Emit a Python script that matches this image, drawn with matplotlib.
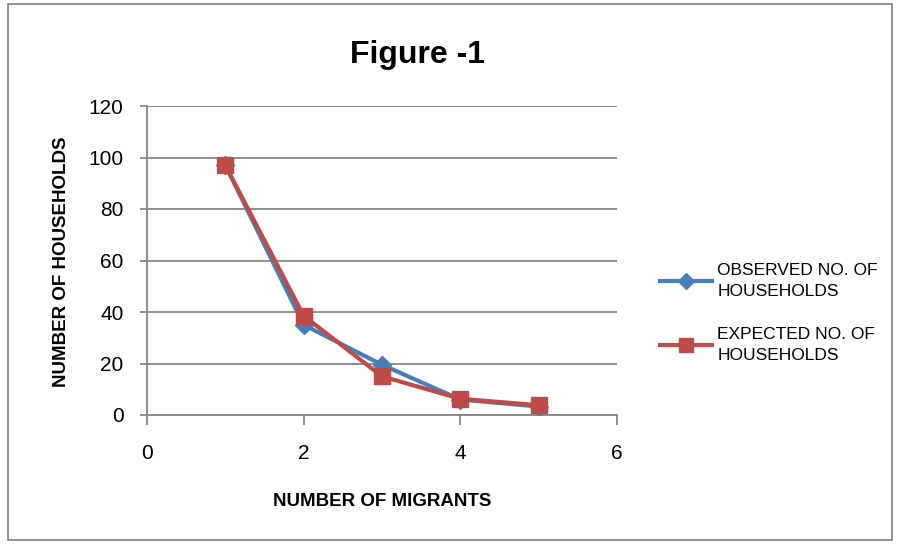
import matplotlib.pyplot as plt
from matplotlib.patches import Rectangle

plt.rcParams['font.family'] = ['Liberation Sans', 'DejaVu Sans']

# data
migrants = [1, 2, 3, 4, 5]
observed = [97, 35, 19.5, 6, 3.3]
expected = [97, 38.5, 15, 6.3, 3.8]

fig = plt.figure(figsize=(8.99, 5.44), dpi=100)
ax = fig.add_axes([147 / 899, 1 - 415 / 544, (617 - 147) / 899, (415 - 106) / 544])

ax.plot(migrants, observed, color="#4A7EBB", lw=3, marker="D", ms=9,
        label="OBSERVED NO. OF\nHOUSEHOLDS", zorder=3)
ax.plot(migrants, expected, color="#BE4B48", lw=3, marker="s", ms=12,
        label="EXPECTED NO. OF\nHOUSEHOLDS", zorder=4)

ax.set_xlim(0, 6)
ax.set_ylim(0, 120)
ax.set_xticks([0, 2, 4, 6])
ax.set_yticks(range(0, 121, 20))
ax.grid(axis="y", color="#868686", lw=1.3)
ax.set_axisbelow(True)
for s in ["top", "right"]:
    ax.spines[s].set_visible(False)
for s in ["left", "bottom"]:
    ax.spines[s].set_color("#868686")
    ax.spines[s].set_linewidth(1.3)
ax.tick_params(axis="both", colors="#868686", labelcolor="black", labelsize=15,
               length=5, width=1.3)
ax.tick_params(axis="x", pad=14, length=7)
ax.tick_params(axis="y", pad=12)

fig.text(418 / 899, 1 - 55 / 544, "Figure -1", ha="center", va="center",
         fontsize=23, fontweight="bold")
fig.text(62 / 899, 1 - 262 / 544, "NUMBER OF HOUSEHOLDS", rotation=90,
         ha="center", va="center", fontsize=13.5, fontweight="bold")
fig.text(382 / 899, 1 - 502 / 544, "NUMBER OF MIGRANTS", ha="center",
         va="center", fontsize=13.5, fontweight="bold")

leg = ax.legend(loc="center left", bbox_to_anchor=((660 - 147) / 470, (415 - 313) / 309),
                frameon=False, fontsize=12.5, handlelength=3.0, handletextpad=0.3,
                labelspacing=1.6, borderpad=0, borderaxespad=0, markerscale=0.85)
for t in leg.get_texts():
    t.set_linespacing(1.5)

fig.patches.append(Rectangle((8 / 899, 4 / 544), 884 / 899, 536 / 544,
                             transform=fig.transFigure, fill=False,
                             edgecolor="#868686", lw=1.3))

fig.savefig("out.png", dpi=100)
